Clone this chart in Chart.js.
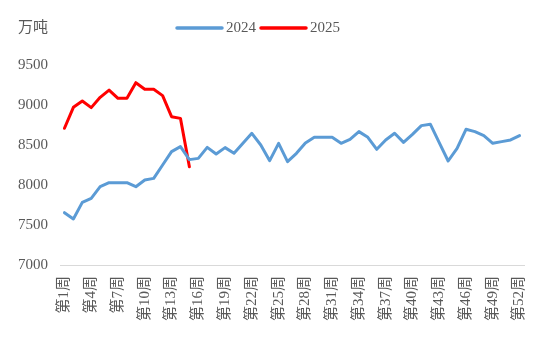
<!DOCTYPE html>
<html>
<head>
<meta charset="utf-8">
<script src="https://cdn.jsdelivr.net/npm/chart.js@4/dist/chart.umd.min.js"></script>
<style>
  body { margin: 0; background: #fff; }
</style>
</head>
<body>
<canvas id="myChart" width="550" height="350"></canvas>
<script>
// weekly volumes, 万吨
var weeks = [];
for (var i = 1; i <= 52; i++) weeks.push('第' + i + '周');

var series2024 = [7654, 7575, 7783, 7833, 7979, 8029, 8029, 8029, 7979, 8062,
                  8083, 8250, 8417, 8479, 8317, 8333, 8470, 8387, 8467, 8396,
                  8521, 8646, 8500, 8304, 8521, 8292, 8396, 8525, 8596, 8596,
                  8596, 8521, 8571, 8667, 8596, 8446, 8563, 8646, 8533, 8633,
                  8742, 8760, 8529, 8300, 8458, 8696, 8667, 8617, 8521, 8542,
                  8563, 8617];
var series2025 = [8709, 8971, 9050, 8967, 9096, 9187, 9083, 9083, 9279, 9196,
                  9196, 9117, 8854, 8833, 8229];

var yTicks = [7000, 7500, 8000, 8500, 9000, 9500];
var unitLabel = '万吨';

var fontFamily = "'Liberation Serif', 'Noto Sans CJK SC', serif";
var textColor = '#595959';

// unit text and a line-style legend drawn above the plot
var headerPlugin = {
    id: 'header',
    afterDraw: function (chart) {
        var ctx = chart.ctx;
        ctx.save();
        ctx.font = '15px ' + fontFamily;
        ctx.fillStyle = textColor;
        ctx.textBaseline = 'middle';
        ctx.textAlign = 'left';
        ctx.fillText(unitLabel, 18, 28);

        var x = 177;
        chart.data.datasets.forEach(function (ds) {
            ctx.strokeStyle = ds.borderColor;
            ctx.lineWidth = 3.5;
            ctx.lineCap = 'round';
            ctx.beginPath();
            ctx.moveTo(x, 28);
            ctx.lineTo(x + 45, 28);
            ctx.stroke();
            x += 49;
            ctx.fillText(ds.label, x, 28);
            x += ctx.measureText(ds.label).width + 5;
        });
        ctx.restore();
    }
};

const ctx = document.getElementById('myChart');
new Chart(ctx, {
    type: 'line',
    data: {
        labels: weeks,
        datasets: [{
            label: '2024',
            data: series2024,
            borderColor: '#5b9bd5',
            backgroundColor: '#5b9bd5',
            borderWidth: 3,
            pointRadius: 0,
            tension: 0,
            borderJoinStyle: 'round',
            borderCapStyle: 'round'
        }, {
            label: '2025',
            data: series2025,
            borderColor: '#ff0000',
            backgroundColor: '#ff0000',
            borderWidth: 3,
            pointRadius: 0,
            tension: 0,
            borderJoinStyle: 'round',
            borderCapStyle: 'round'
        }]
    },
    options: {
        responsive: false,
        animation: false,
        layout: { padding: { top: 65, right: 26, bottom: 0, left: 0 } },
        plugins: {
            legend: { display: false },
            tooltip: { enabled: false }
        },
        scales: {
            x: {
                offset: true,
                grid: { display: false, drawTicks: false },
                border: { display: true, color: '#d9d9d9', width: 1 },
                ticks: {
                    autoSkip: false,
                    minRotation: 90,
                    maxRotation: 90,
                    padding: 11,
                    color: textColor,
                    font: { family: fontFamily, size: 15 },
                    callback: function (value, index) {
                        return index % 3 === 0 ? this.getLabelForValue(value) : '';
                    }
                },
                afterFit: function (scale) { scale.height = 85; }
            },
            y: {
                min: yTicks[0],
                max: yTicks[yTicks.length - 1],
                grid: { display: false, drawTicks: false },
                border: { display: false },
                afterBuildTicks: function (scale) {
                    scale.ticks = yTicks.map(function (v) { return { value: v }; });
                },
                ticks: {
                    padding: 12,
                    color: textColor,
                    font: { family: fontFamily, size: 15 },
                    callback: function (value) { return String(value); }
                },
                afterFit: function (scale) { scale.width = 60; }
            }
        }
    },
    plugins: [headerPlugin]
});
</script>
</body>
</html>
